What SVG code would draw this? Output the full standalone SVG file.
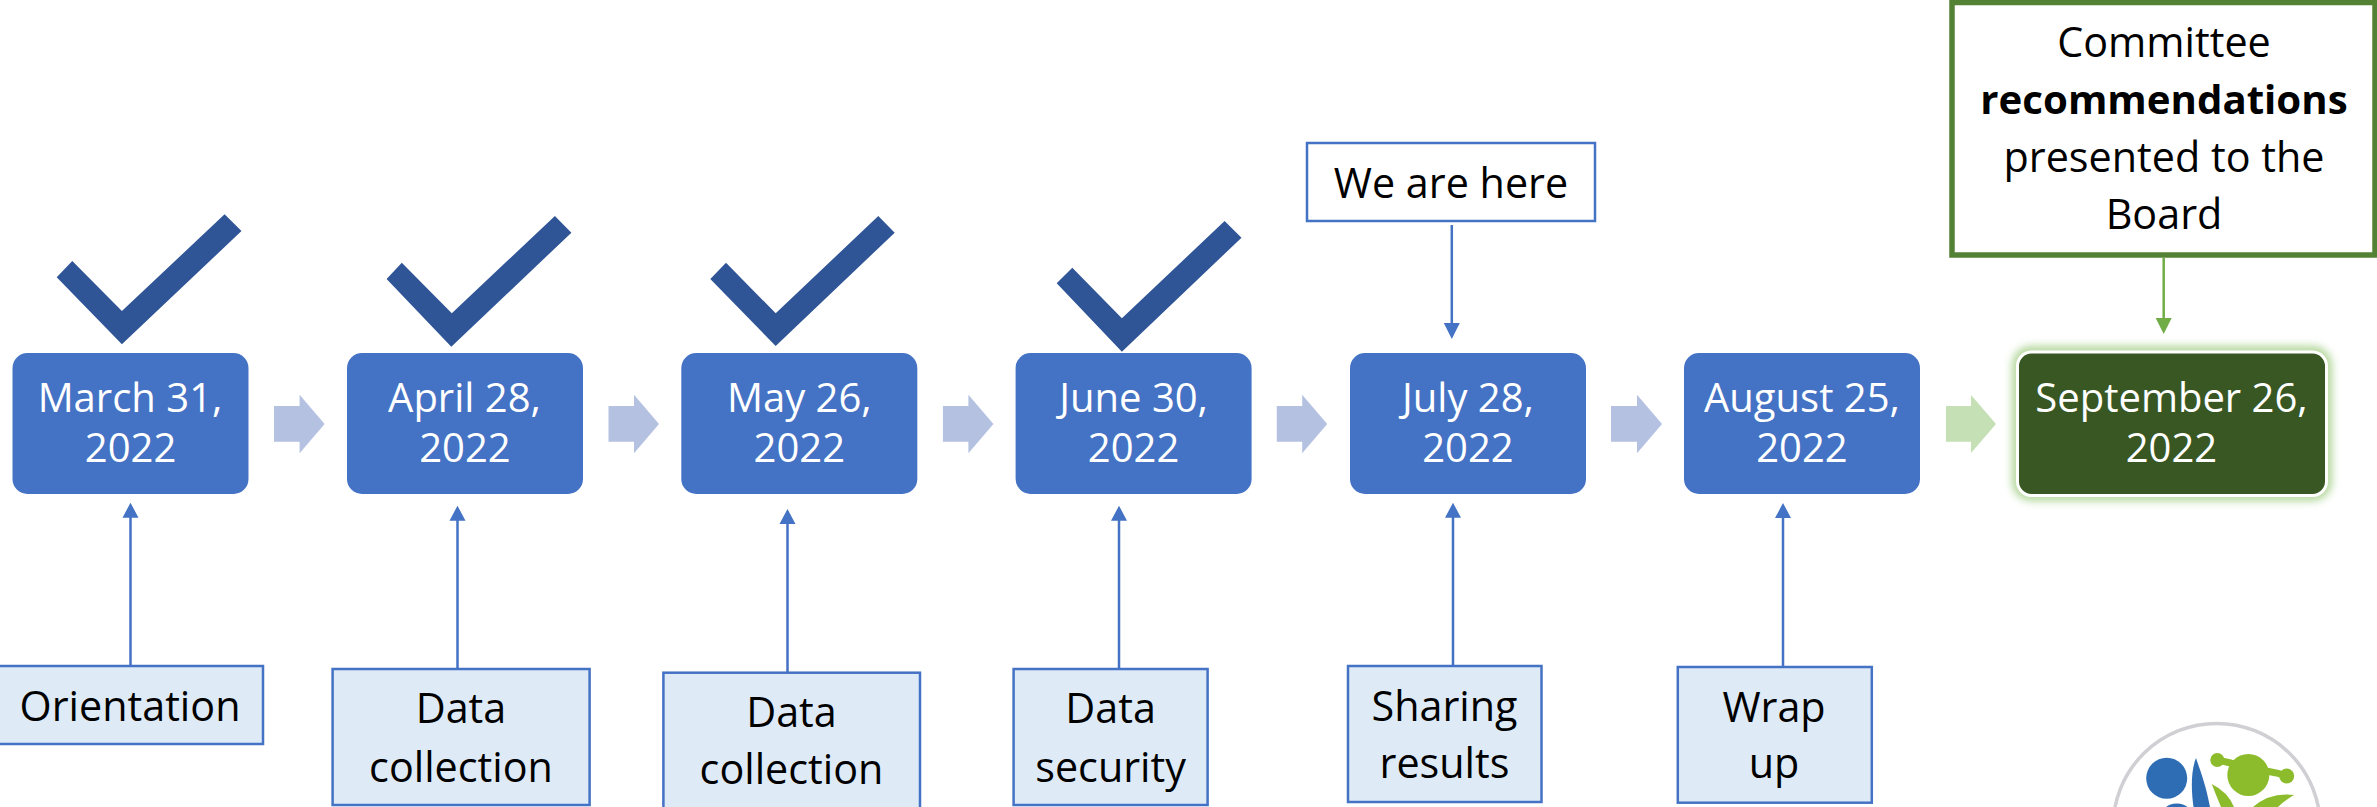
<svg xmlns="http://www.w3.org/2000/svg" width="2377" height="807" viewBox="0 0 2377 807">
<style>
text{font-family:"Open Sans","Noto Sans","Liberation Sans",sans-serif;text-anchor:middle}
.date{fill:#fff;font-size:40px}
.lab{fill:#000;font-size:41.3px}
.bold{font-size:40.2px;font-weight:700}
.dbox{fill:#4472c4}
.note{fill:#deebf7;stroke:#4472c4;stroke-width:2.5}
.chk{fill:#2f5597}
.blk{fill:#b4c1e1}
.up{stroke:#4472c4;stroke-width:2.5;fill:none}
.hd{fill:#4472c4}
</style>
<defs><filter id="glow" x="-15%" y="-25%" width="130%" height="150%"><feGaussianBlur stdDeviation="4"/></filter></defs>
<g id="connectors">
<polygon class="blk" points="274,406 299.6,406 299.6,394.7 324.6,424 299.6,453.3 299.6,441.7 274,441.7"/>
<polygon class="blk" points="608.5,406 634,406 634,394.7 659,424 634,453.3 634,441.7 608.5,441.7"/>
<polygon class="blk" points="942.9,406 968.4,406 968.4,394.7 993.4,424 968.4,453.3 968.4,441.7 942.9,441.7"/>
<polygon class="blk" points="1276.8,406 1302.2,406 1302.2,394.7 1327.2,424 1302.2,453.3 1302.2,441.7 1276.8,441.7"/>
<polygon class="blk" points="1611,406 1637,406 1637,394.7 1662,424 1637,453.3 1637,441.7 1611,441.7"/>
<polygon fill="#c5e0b4" points="1946,406 1971,406 1971,395 1996,424 1971,453 1971,441.7 1946,441.7"/>
<path class="up" d="M130.5 666V516M457.5 669V519M787.5 673V522M1119 669V519M1453 666V516M1783 667V516M1451.8 225V325"/>
<path class="hd" d="M130.5 502.7l8 15h-16zM457.5 505.7l8 15h-16zM787.5 509l8 15h-16zM1119 505.7l8 15h-16zM1453 502.7l8 15h-16zM1783 503l8 15h-16zM1451.8 339l-8-16h16z"/>
<path d="M2163.7 258V320" stroke="#70ad47" stroke-width="2.5" fill="none"/>
<path d="M2163.7 334l-8-16h16z" fill="#70ad47"/>
</g>
<g id="check1"><polygon class="chk" points="56.7,277.3 72.3,261 121.9,311 224.6,214.3 241.5,231 121.9,344.3"/></g>
<g id="check2"><polygon class="chk" points="386.6,279 401.8,262.7 451.8,313.3 554.9,216 571.4,232.7 451.3,346.7"/></g>
<g id="check3"><polygon class="chk" points="710.3,279 726,262.7 775.7,313.3 878.3,216 894.7,232.7 775.7,346"/></g>
<g id="check4"><polygon class="chk" points="1056.7,283.3 1072.3,267.7 1121.9,318.3 1224.6,221 1241.5,237.7 1121.9,351.7"/></g>
<g id="date1"><rect class="dbox" x="12.5" y="353" width="236" height="141" rx="15"/><text class="date" x="130" y="411.7">March 31,</text><text class="date" x="130.6" y="461.7">2022</text></g>
<g id="date2"><rect class="dbox" x="347" y="353" width="236" height="141" rx="15"/><text class="date" x="464.5" y="411.7">April 28,</text><text class="date" x="465" y="461.7">2022</text></g>
<g id="date3"><rect class="dbox" x="681.3" y="353" width="236" height="141" rx="15"/><text class="date" x="799.3" y="411.7">May 26,</text><text class="date" x="799.3" y="461.7">2022</text></g>
<g id="date4"><rect class="dbox" x="1015.6" y="353" width="236" height="141" rx="15"/><text class="date" x="1133.6" y="411.7">June 30,</text><text class="date" x="1133.6" y="461.7">2022</text></g>
<g id="date5"><rect class="dbox" x="1350" y="353" width="236" height="141" rx="15"/><text class="date" x="1468" y="411.7">July 28,</text><text class="date" x="1468" y="461.7">2022</text></g>
<g id="date6"><rect class="dbox" x="1684" y="353" width="236" height="141" rx="15"/><text class="date" x="1802" y="411.7">August 25,</text><text class="date" x="1802" y="461.7">2022</text></g>
<g id="date7">
<rect x="2017" y="351" width="310" height="145" rx="14" fill="none" stroke="#a9d18e" stroke-width="9" filter="url(#glow)"/>
<rect x="2017.5" y="352" width="309" height="143.5" rx="14" fill="#385723" stroke="#fff" stroke-width="3"/>
<text class="date" x="2171.5" y="411.7">September 26,</text><text class="date" x="2171.5" y="461.7">2022</text></g>
<g id="we-are-here"><rect x="1307" y="143" width="288" height="78" fill="#fff" stroke="#4472c4" stroke-width="2.5"/><text class="lab" x="1451" y="197.7">We are here</text></g>
<g id="committee"><rect x="1952" y="2.5" width="423" height="252.5" fill="#fff" stroke="#548235" stroke-width="5.5"/>
<text class="lab" x="2164" y="56.7">Committee</text><text class="lab bold" x="2164" y="114">recommendations</text><text class="lab" x="2164" y="171.7">presented to the</text><text class="lab" x="2164" y="229">Board</text></g>
<g id="orientation"><rect class="note" x="-3" y="666" width="266" height="78"/><text class="lab" x="130" y="720.7">Orientation</text></g>
<g id="data-collection-1"><rect class="note" x="332.6" y="669" width="257" height="136"/><text class="lab" x="461" y="723">Data</text><text class="lab" x="461" y="781.7">collection</text></g>
<g id="data-collection-2"><rect class="note" x="663.4" y="672.7" width="256.6" height="140"/><text class="lab" x="791.5" y="726.7">Data</text><text class="lab" x="791.5" y="784.3">collection</text></g>
<g id="data-security"><rect class="note" x="1013.6" y="669" width="194" height="136"/><text class="lab" x="1110.6" y="723">Data</text><text class="lab" x="1110.6" y="781.7">security</text></g>
<g id="sharing-results"><rect class="note" x="1348" y="666" width="193.5" height="136"/><text class="lab" x="1444.5" y="720.7">Sharing</text><text class="lab" x="1444.5" y="777.7">results</text></g>
<g id="wrap-up"><rect class="note" x="1677.8" y="667" width="194" height="135.7"/><text class="lab" x="1774" y="721.7">Wrap</text><text class="lab" x="1774" y="777.7">up</text></g>
<g id="logo">
<circle cx="2216.7" cy="827" r="103.6" fill="#fff" stroke="#cfcfd4" stroke-width="3.5"/>
<circle cx="2166.7" cy="778.3" r="20.5" fill="#2e6db4"/>
<circle cx="2176.7" cy="821.5" r="18" fill="#2e6db4"/>
<path d="M2196 758C2191 770 2191 790 2193.5 807H2210C2206 785 2200 770 2196 758Z" fill="#2e6db4"/>
<circle cx="2248.3" cy="775" r="21" fill="#8cbc2c"/>
<path d="M2217 760Q2235 763 2248 770Q2270 770 2287 776" stroke="#8cbc2c" stroke-width="7" fill="none"/>
<circle cx="2217.3" cy="760" r="7" fill="#8cbc2c"/><circle cx="2286.7" cy="776" r="7.5" fill="#8cbc2c"/>
<path d="M2211.7 784Q2228 792 2234 807H2221Q2216 795 2211.7 784Z" fill="#8cbc2c"/>
<path d="M2294 795Q2270 792 2253 807H2278Q2285 800 2294 795Z" fill="#8cbc2c"/>
</g>
</svg>
